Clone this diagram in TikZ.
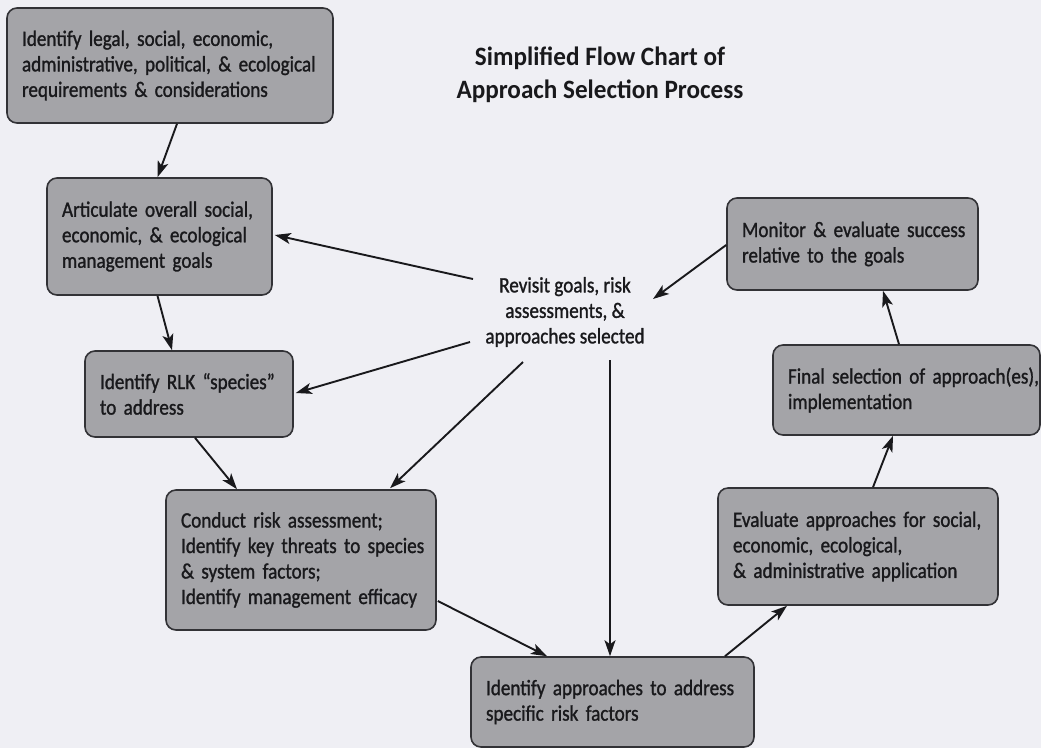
\documentclass[tikz,border=0pt]{standalone}
\usepackage{fontspec}
\setmainfont{Carlito}
\newfontfamily\boxfont[FakeStretch=0.87,FakeBold=1.2]{Carlito}
\newfontfamily\titlefont[FakeStretch=0.95]{Carlito}
\usetikzlibrary{arrows.meta,calc}
\definecolor{bg}{RGB}{239,239,244}
\definecolor{boxfill}{RGB}{164,164,168}
\definecolor{boxline}{RGB}{50,50,54}
\definecolor{ink}{RGB}{25,25,28}
\tikzset{
  procbox/.style={draw=boxline, line width=1.6pt, fill=boxfill, rounded corners=10pt,
    inner xsep=15pt, inner ysep=0pt, align=left, text=ink,
    font=\boxfont\fontsize{22}{25.5}\selectfont},
  flow/.style={draw=ink, line width=1.9pt, -{Stealth[length=16pt,width=11pt,inset=4pt]}},
}
\begin{document}
\begin{tikzpicture}[x=1pt,y=-1pt]
\fill[bg] (0,0) rectangle (1041,748);
\useasboundingbox (0,0) rectangle (1041,748);

\node[font=\titlefont\bfseries\fontsize{26.5}{33}\selectfont, text=ink, align=center] (title) at (600,75)
  {Simplified Flow Chart of\\Approach Selection Process};

\node[procbox, text width=296pt, minimum height=115pt] (b1) at (170,65.5)
  {\mbox{Identify legal, social, economic,}\\\mbox{administrative, political, \& ecological}\\\mbox{requirements \& considerations}};
\node[procbox, text width=195pt, minimum height=117pt] (b2) at (159.5,236.5)
  {\mbox{Articulate overall social,}\\\mbox{economic, \& ecological}\\\mbox{management goals}};
\node[procbox, text width=178pt, minimum height=86pt] (b3) at (189,394)
  {\mbox{Identify RLK “species”}\\\mbox{to address}};
\node[procbox, text width=240pt, minimum height=140pt] (b4) at (301,560)
  {\mbox{Conduct risk assessment;}\\\mbox{Identify key threats to species}\\\mbox{\& system factors;}\\\mbox{Identify management efficacy}};
\node[procbox, text width=253pt, minimum height=90pt] (b5) at (612.5,702)
  {\mbox{Identify approaches to address}\\\mbox{specific risk factors}};
\node[procbox, text width=250pt, minimum height=117pt] (b6) at (858,546.5)
  {\mbox{Evaluate approaches for social,}\\\mbox{economic, ecological,}\\\mbox{\& administrative application}};
\node[procbox, text width=237pt, minimum height=90pt] (b7) at (906.5,390)
  {\mbox{Final selection of approach(es),}\\\mbox{implementation}};
\node[procbox, text width=221pt, minimum height=92pt] (b8) at (852.5,244)
  {\mbox{Monitor \& evaluate success}\\\mbox{relative to the goals}};

\node[align=center, text=ink, font=\boxfont\fontsize{22}{25.5}\selectfont] (rv) at (565,312)
  {Revisit goals, risk\\assessments, \&\\approaches selected};

\draw[flow] ($(b1.south)+(7,0)$) -- ($(b2.north)+(-2,0)$);
\draw[flow] ($(b2.south)+(-2,0)$) -- ($(b3.north)+(-17,0)$);
\draw[flow] ($(b3.south)+(6,0)$) -- ($(b4.north)+(-64,0)$);
\draw[flow] ($(b4.east)+(1,41)$) -- ($(b5.north)+(-65.5,0)$);
\draw[flow] ($(b5.north)+(112.5,0)$) -- ($(b6.south)+(-71,0)$);
\draw[flow] ($(b6.north)+(15,0)$) -- ($(b7.south)+(-13.5,0)$);
\draw[flow] ($(b7.north)+(-7.5,0)$) -- ($(b8.south)+(30.5,0)$);
\draw[flow] ($(b8.west)+(0,1)$) -- ($(rv)+(88,-13)$);
\draw[flow] ($(rv)+(-92,-33)$) -- ($(b2.east)+(2,-1.5)$);
\draw[flow] ($(rv)+(-95,30)$) -- ($(b3.east)+(2,-1)$);
\draw[flow] ($(rv)+(-42,50)$) -- ($(b4.north)+(89,-1)$);
\draw[flow] ($(rv)+(45,48)$) -- ($(b5.north)+(-2.5,0)$);
\end{tikzpicture}
\end{document}
